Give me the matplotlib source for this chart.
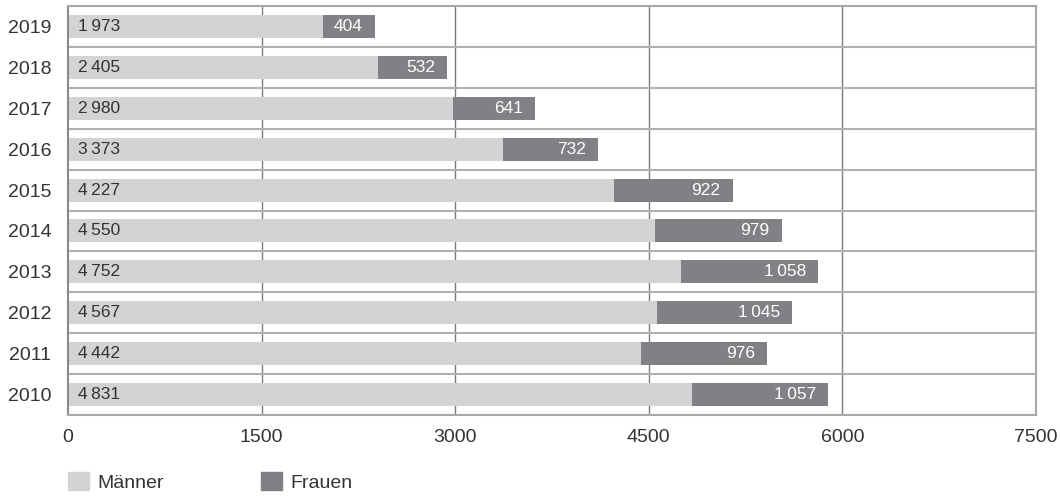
import numpy as np
import matplotlib.pyplot as plt
from matplotlib.patches import Patch

plt.rc('font', family=['Liberation Sans', 'DejaVu Sans'])

years = ['2019', '2018', '2017', '2016', '2015', '2014', '2013', '2012', '2011', '2010']
maenner = [1973, 2405, 2980, 3373, 4227, 4550, 4752, 4567, 4442, 4831]
frauen = [404, 532, 641, 732, 922, 979, 1058, 1045, 976, 1057]
xticks = [0, 1500, 3000, 4500, 6000, 7500]

c_m = '#d2d3d5'
c_f = '#808184'
txt = '#333333'


def fmt(v):
    s = f'{v:,}'
    return s.replace(',', '\u2009')


fig = plt.figure(figsize=(10.6, 4.97), dpi=100)
ax = fig.add_axes([68/1060, 1 - 415/497, (1036 - 68)/1060, (415 - 6)/497])

y = np.arange(len(years))[::-1]
ax.barh(y, maenner, height=0.56, color=c_m, zorder=2)
ax.barh(y, frauen, left=maenner, height=0.56, color=c_f, zorder=2)

for yi, m, f in zip(y, maenner, frauen):
    ax.annotate(fmt(m), (0, yi), xytext=(10, 0), textcoords='offset pixels',
                ha='left', va='center', fontsize=12.5, color=txt, zorder=3)
    ax.annotate(fmt(f), (m + f, yi), xytext=(-12, 0), textcoords='offset pixels',
                ha='right', va='center', fontsize=12.5, color='white', zorder=3)

ax.set_xlim(0, 7500)
ax.set_ylim(-0.5, len(years) - 0.5)
ax.set_xticks(xticks)
ax.set_xticklabels([str(t) for t in xticks])
ax.set_yticks(y)
ax.set_yticklabels(years)
ax.tick_params(length=0, labelsize=14, labelcolor=txt)
ax.tick_params(axis='x', pad=10)
ax.tick_params(axis='y', pad=12)

for xv in xticks[1:-1]:
    ax.axvline(xv, color='#7a7a7a', lw=1, zorder=1)
for yv in np.arange(0.5, len(years) - 1, 1):
    ax.axhline(yv, color='#b0b0b0', lw=1.5, zorder=1)

for s in ['top', 'right', 'bottom']:
    ax.spines[s].set_color('#a8a8a8')
    ax.spines[s].set_linewidth(1.5)
ax.spines['left'].set_color('#8a8a8a')
ax.spines['left'].set_linewidth(1.5)

handles = [Patch(color=c_m, label='Männer'), Patch(color=c_f, label='Frauen')]
fig.legend(handles=handles, loc='center left', bbox_to_anchor=(68/1060, 1 - 482/497),
           ncol=2, frameon=False, fontsize=14, labelcolor=txt,
           borderpad=0, borderaxespad=0,
           handlelength=1.1, handleheight=1.0, handletextpad=0.4, columnspacing=5.0)

fig.savefig('out.png', dpi=100)
